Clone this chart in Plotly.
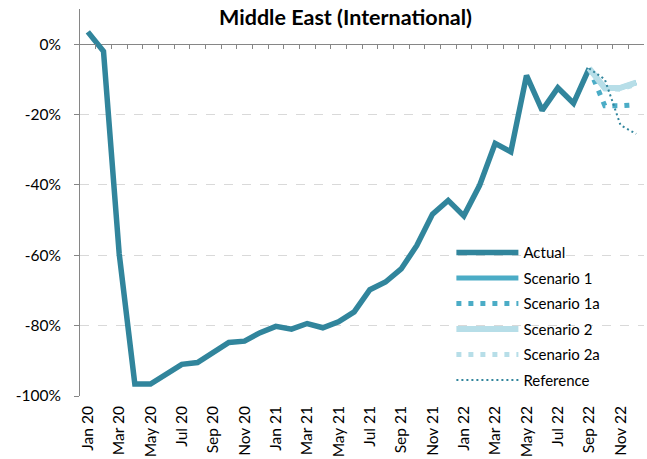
import plotly.graph_objects as go

# Monthly categories Jan 20 .. Dec 22
month_names = ["Jan", "Feb", "Mar", "Apr", "May", "Jun",
               "Jul", "Aug", "Sep", "Oct", "Nov", "Dec"]
categories = [f"{m} {y}" for y in ("20", "21", "22") for m in month_names]
x_tick_labels = categories[::2]

# Change vs. baseline, as fractions
actual = [0.035, -0.020, -0.595, -0.966, -0.966, -0.938, -0.910, -0.905,
          -0.875, -0.848, -0.844, -0.820, -0.802, -0.810, -0.794, -0.806,
          -0.789, -0.761, -0.698, -0.676, -0.639, -0.572, -0.483, -0.444,
          -0.488, -0.402, -0.282, -0.306, -0.089, -0.188, -0.124, -0.168,
          -0.069, None, None, None]
pad = [None] * 32
scenario_1 = pad + [-0.069, -0.125, -0.124, -0.109]
scenario_1a = pad + [-0.069, -0.175, -0.175, -0.172]
scenario_2 = pad + [-0.069, -0.125, -0.124, -0.109]
scenario_2a = pad + [-0.069, -0.127, -0.128, -0.114]
reference = pad + [-0.069, -0.100, -0.230, -0.255]

y_tick_vals = [0, -0.2, -0.4, -0.6, -0.8, -1.0]
y_tick_text = ["0%", "-20%", "-40%", "-60%", "-80%", "-100%"]
Y_MIN, Y_MAX = -1.0, 0.1

FONT = "Lato"
DARK_TEAL = "#31859C"
AQUA = "#4BACC6"
LIGHT_AQUA = "#B7DEE8"
AXIS_GREY = "#868686"
GRID_GREY = "#D9D9D9"

series = [
    ("Actual", actual, DARK_TEAL, 5.5, "solid"),
    ("Scenario 1", scenario_1, AQUA, 5, "solid"),
    ("Scenario 1a", scenario_1a, AQUA, 5, "5px,7px"),
    ("Scenario 2", scenario_2, LIGHT_AQUA, 6, "solid"),
    ("Scenario 2a", scenario_2a, LIGHT_AQUA, 5, "5px,7px"),
    ("Reference", reference, DARK_TEAL, 2, "2px,3px"),
]

fig = go.Figure()
for name, values, color, width, dash in series:
    fig.add_trace(go.Scatter(
        x=categories, y=values, name=name, mode="lines",
        line=dict(color=color, width=width, dash=dash),
        legendgroup=name, hoverinfo="skip",
    ))

# invisible carrier for the helper axes that draw the month
# boundary ticks hanging from the 0% line
fig.add_trace(go.Scatter(
    x=list(range(len(categories))), y=actual, xaxis="x2", yaxis="y2",
    mode="lines", line=dict(width=0, color="rgba(0,0,0,0)"),
    showlegend=False, hoverinfo="skip",
))

zero_frac = (0 - Y_MIN) / (Y_MAX - Y_MIN)

fig.update_layout(
    width=647, height=459,
    margin=dict(l=80, r=3, t=9, b=63),
    plot_bgcolor="rgba(0,0,0,0)", paper_bgcolor="white",
    font=dict(family=FONT, size=15, color="#000000"),
    title=dict(
        text="Middle East (International)",
        font=dict(family=FONT, size=21.5, weight="bold", color="#000000"),
        xref="container", x=345.5 / 647, xanchor="center",
        yref="container", y=1 - 17 / 459, yanchor="middle",
    ),
    showlegend=True,
    legend=dict(
        x=0.6585, y=0.413, xanchor="left", yanchor="top",
        bgcolor="rgba(0,0,0,0)", font=dict(family=FONT, size=15),
        tracegroupgap=3, itemwidth=62,
    ),
    xaxis=dict(
        type="category", categoryorder="array", categoryarray=categories,
        range=[-0.5, 35.5],
        tickmode="array", tickvals=x_tick_labels, ticktext=x_tick_labels,
        tickangle=-90, ticks="", showline=False, showgrid=False,
        zeroline=False, tickfont=dict(family=FONT, size=15.5),
        ticklabelstandoff=6,
    ),
    xaxis2=dict(
        anchor="y2", side="top",
        type="linear", range=[-0.5, 35.5],
        tickmode="linear", tick0=-0.5, dtick=1,
        ticks="inside", ticklen=5, tickcolor=AXIS_GREY, tickwidth=1,
        showticklabels=False, showline=False, showgrid=False, zeroline=False,
    ),
    yaxis2=dict(
        domain=[0, zero_frac], anchor="x2", visible=False,
        range=[0, 1], showgrid=False, zeroline=False,
    ),
    yaxis=dict(
        range=[Y_MIN, Y_MAX],
        tickmode="array", tickvals=y_tick_vals, ticktext=y_tick_text,
        ticks="outside", ticklen=5, tickcolor=AXIS_GREY,
        showline=True, linecolor=AXIS_GREY, linewidth=1,
        showgrid=True, gridcolor=GRID_GREY, griddash="dash", gridwidth=1,
        zeroline=True, zerolinecolor=AXIS_GREY, zerolinewidth=1,
        tickfont=dict(family=FONT, size=15.5),
        ticklabelstandoff=10,
    ),
)

fig.write_html("out.html")
